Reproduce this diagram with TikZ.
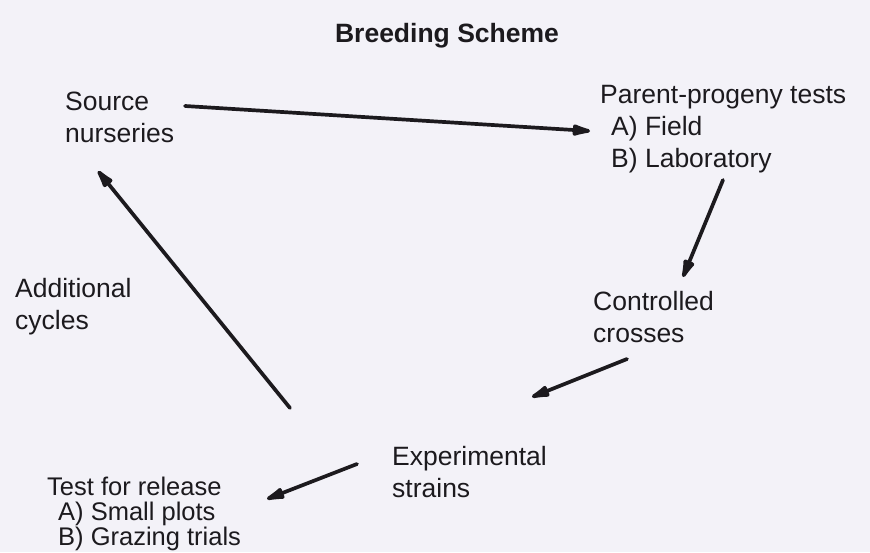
\documentclass[tikz,border=0pt]{standalone}
\usepackage{fontspec}
\setmainfont{Liberation Sans}
\usetikzlibrary{arrows.meta}
\definecolor{bg}{HTML}{F3F2F8}
\definecolor{ink}{HTML}{1C1A1E}
\begin{document}
\begin{tikzpicture}[x=1pt,y=-1pt,
  lbl/.style={anchor=base west, align=left, inner sep=0pt, text=ink,
    font=\fontsize{26.5}{32}\selectfont},
  flow/.style={draw=ink, line width=3.7pt, line cap=round,
    -{Latex[length=27pt,width=13pt,round]}}]
\fill[bg] (0,0) rectangle (870,552);
\useasboundingbox (0,0) rectangle (870,552);
\node[anchor=base, inner sep=0pt, text=ink, font=\fontsize{26.5}{31}\selectfont\bfseries] (title) at (447,42) {Breeding Scheme};
\node[lbl] (src) at (65,142) {Source\\nurseries};
\node[lbl] (ppt) at (600,167) {Parent-progeny tests\\\hspace*{11pt}A) Field\\\hspace*{11pt}B) Laboratory};
\node[lbl] (cc) at (593,342) {Controlled\\crosses};
\node[lbl] (add) at (15,329) {Additional\\cycles};
\node[lbl] (exp) at (392,497) {Experimental\\strains};
\node[lbl, font=\fontsize{25.5}{25}\selectfont] (tfr) at (47,545) {Test for release\\\hspace*{11pt}A) Small plots\\\hspace*{11pt}B) Grazing trials};
\coordinate (a1s) at (185,106); \coordinate (a1e) at (590,131);
\coordinate (a2s) at (723,180); \coordinate (a2e) at (683,277);
\coordinate (a3s) at (627,359); \coordinate (a3e) at (532,397);
\coordinate (a4s) at (357,464); \coordinate (a4e) at (267,499);
\coordinate (a5s) at (290,408); \coordinate (a5e) at (98,171);
\draw[flow] (a1s) -- (a1e);
\draw[flow] (a2s) -- (a2e);
\draw[flow] (a3s) -- (a3e);
\draw[flow] (a4s) -- (a4e);
\draw[flow] (a5s) -- (a5e);
\end{tikzpicture}
\end{document}
